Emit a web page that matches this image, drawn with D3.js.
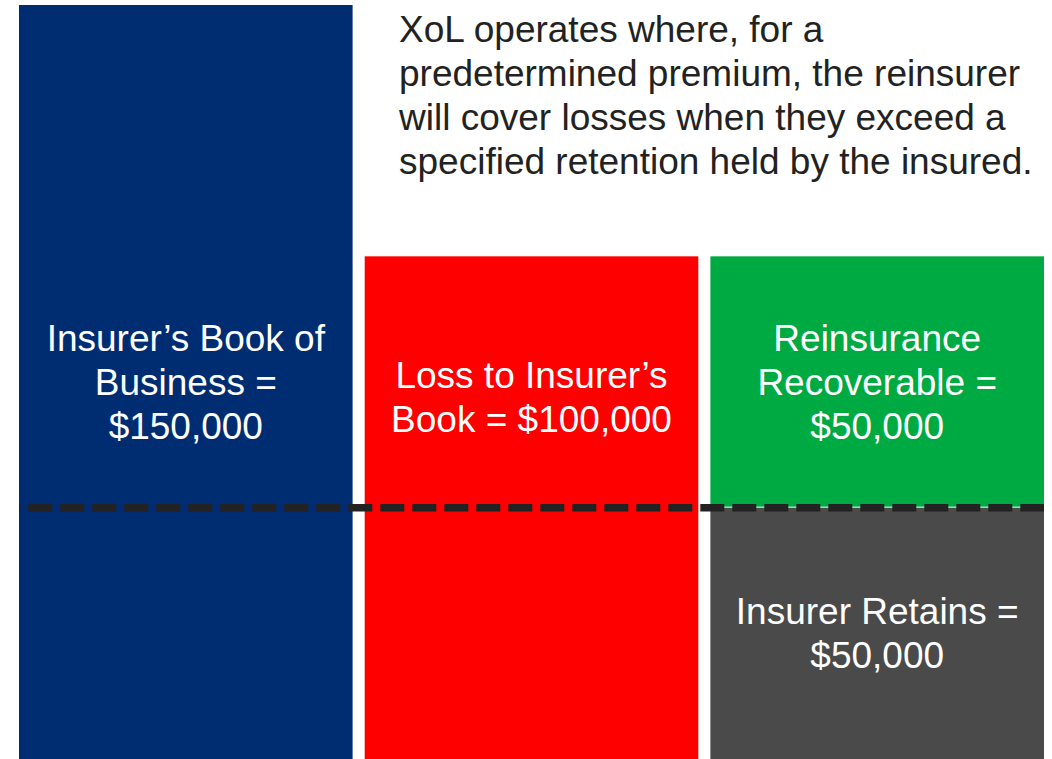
<!DOCTYPE html>
<html>
<head>
<meta charset="utf-8">
<script src="https://cdnjs.cloudflare.com/ajax/libs/d3/7.8.5/d3.min.js"></script>
<style>
  body { margin: 0; background: #fff; }
  svg { display: block; font-family: "Liberation Sans", Arial, sans-serif; }
</style>
</head>
<body>
<svg id="chart"></svg>
<script>
// columns along the x axis
var columns = ["Book", "Loss", "Split"];

// stacked segments: which column, where they start and end (in $)
var segNames = ["Book", "Loss", "Recoverable", "Retains"];
var segColumns = ["Book", "Loss", "Split", "Split"];
var segStart = [0, 0, 50000, 0];
var segEnd = [150000, 100000, 100000, 50000];
var segLabels = [
  ["Insurer\u2019s Book of", "Business =", "$150,000"],
  ["Loss to Insurer\u2019s", "Book = $100,000"],
  ["Reinsurance", "Recoverable =", "$50,000"],
  ["Insurer Retains =", "$50,000"]
];

var retention = 50000;
var maxValue = 150000;

var titleLines = [
  "XoL operates where, for a",
  "predetermined premium, the reinsurer",
  "will cover losses when they exceed a",
  "specified retention held by the insured."
];

var makeChart = function(){
  var width = 1052;
  var height = 759;
  var fontSize = 37;
  var lineH = 44;

  var svg = d3.select("#chart")
    .attr("width", width)
    .attr("height", height);

  var x = d3.scaleBand()
    .domain(columns)
    .range([19, 1044])
    .paddingInner(0.035)
    .paddingOuter(0);

  var y = d3.scaleLinear()
    .domain([0, maxValue])
    .range([height, 5]);

  var color = d3.scaleOrdinal()
    .domain(segNames)
    .range(["#002d72", "#ff0000", "#00aa42", "#4a4a4a"]);

  var segs = segNames.map(function(n, i){
    return {name: n, col: segColumns[i], lo: segStart[i], hi: segEnd[i], lines: segLabels[i]};
  });

  // bars
  svg.selectAll("rect.seg")
    .data(segs)
    .enter()
    .append("rect")
    .attr("class", "seg")
    .attr("x", function(d){ return x(d.col); })
    .attr("y", function(d){ return y(d.hi); })
    .attr("width", x.bandwidth())
    .attr("height", function(d){
      // small white seam between the stacked pieces
      var gap = (d.name === "Recoverable") ? 1 : 0;
      return y(d.lo) - y(d.hi) - gap;
    })
    .attr("fill", function(d){ return color(d.name); });

  // retention line
  svg.append("line")
    .attr("x1", x("Book"))
    .attr("x2", x("Split") + x.bandwidth())
    .attr("y1", y(retention))
    .attr("y2", y(retention))
    .attr("stroke", "#222")
    .attr("stroke-width", 7.5)
    .attr("stroke-dasharray", "24,8")
    .attr("stroke-dashoffset", 22.7);

  // labels in the bars
  var labelShift = {Loss: -111};
  svg.selectAll("text.lab")
    .data(segs)
    .enter()
    .append("text")
    .attr("class", "lab")
    .attr("text-anchor", "middle")
    .attr("fill", "#fff")
    .style("font-size", fontSize + "px")
    .each(function(d){
      var cx = x(d.col) + x.bandwidth() / 2;
      var cy = (y(d.lo) + y(d.hi)) / 2 + (labelShift[d.name] || 0);
      var first = cy + 13 - (d.lines.length - 1) * lineH / 2;
      d3.select(this).selectAll("tspan")
        .data(d.lines)
        .enter()
        .append("tspan")
        .attr("x", cx)
        .attr("y", function(t, i){ return first + i * lineH; })
        .text(function(t){ return t; });
    });

  // explanation text
  svg.append("text")
    .attr("fill", "#222")
    .style("font-size", fontSize + "px")
    .selectAll("tspan")
    .data(titleLines)
    .enter()
    .append("tspan")
    .attr("x", 399)
    .attr("y", function(t, i){ return 42 + i * lineH; })
    .text(function(t){ return t; });
}

makeChart();
</script>
</body>
</html>
